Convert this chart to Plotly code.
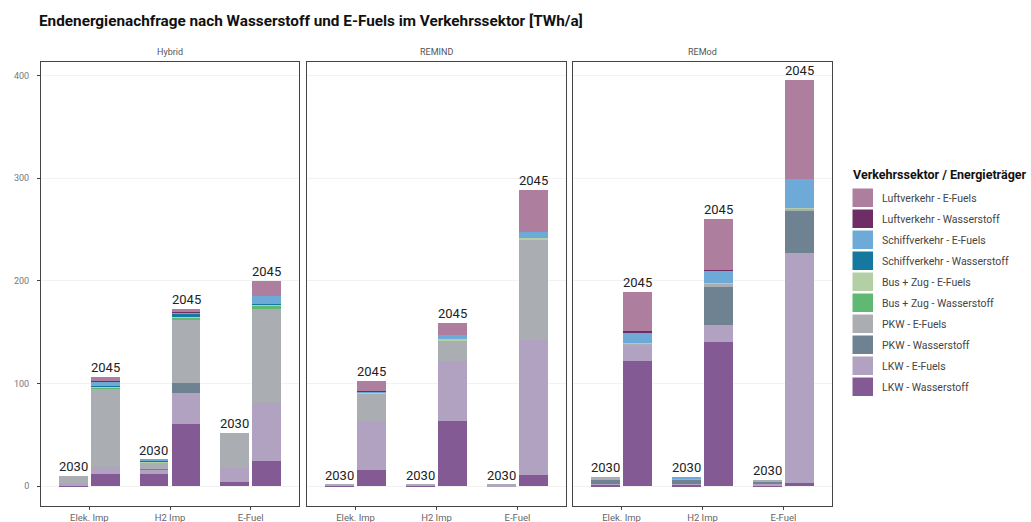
import plotly.graph_objects as go

# Szenarien (Facetten), Kategorien und Jahre
scenarios = ["Hybrid", "REMIND", "REMod"]
categories = ["Elek. Imp", "H2 Imp", "E-Fuel"]
years = ["2030", "2045"]

# Werte je Balken in TWh/a, Reihenfolge: Szenario -> Kategorie -> Jahr
#                Hybrid                              REMIND                              REMod
lkw_h2 =       [0.5, 12, 12, 61, 4, 25,            0.3, 16, 0.5, 64, 0, 11,            1.5, 122, 1.5, 140, 1, 3]
lkw_ef =       [2.5, 7, 4, 30, 14, 56,             0, 48, 0, 58, 0.3, 131,             1, 15, 0.5, 17, 1.5, 224]
pkw_h2 =       [0, 0, 0.5, 10, 0, 0,               0.2, 0, 0.5, 0, 0, 0,               3.5, 0, 5, 37, 1.5, 41]
pkw_ef =       [7, 76, 6.5, 61, 34, 92,            1, 26, 0.5, 20, 1.2, 98,            3, 1.5, 1, 3, 2.5, 2]
bus_h2 =       [0, 0.5, 0.5, 2, 0, 3,              0, 0, 0, 0, 0, 0,                   0, 0, 0, 0, 0, 0]
bus_ef =       [0, 2, 0.5, 1, 0, 1,                0, 1, 0, 1, 0, 2,                   0, 0.5, 0, 0.5, 0, 1]
schiff_h2 =    [0, 0.5, 1.5, 3, 0, 0.5,            0, 0, 0, 0, 0, 0,                   0, 0, 0, 0, 0, 0]
schiff_ef =    [0, 3.5, 0.5, 1.5, 0, 7.5,          0, 1.5, 0, 4, 0, 6,                 0, 11, 1, 13, 0, 28]
luft_h2 =      [0, 0.5, 0, 0.5, 0, 0,              0, 0.5, 0, 0, 0, 0,                 0, 1, 0, 0.5, 0, 0]
luft_ef =      [0, 4.5, 0, 3, 0, 15,               0, 9, 0, 12, 0, 40,                 0, 38, 0, 49, 0, 96]

# Reihen von unten nach oben gestapelt
series = [
    ("LKW - Wasserstoff", lkw_h2, "#835a94"),
    ("LKW - E-Fuels", lkw_ef, "#b2a2c2"),
    ("PKW - Wasserstoff", pkw_h2, "#6e8291"),
    ("PKW - E-Fuels", pkw_ef, "#aaaeb2"),
    ("Bus + Zug - Wasserstoff", bus_h2, "#5fb973"),
    ("Bus + Zug - E-Fuels", bus_ef, "#b2cfa6"),
    ("Schiffverkehr - Wasserstoff", schiff_h2, "#14789f"),
    ("Schiffverkehr - E-Fuels", schiff_ef, "#6eaad7"),
    ("Luftverkehr - Wasserstoff", luft_h2, "#6e2d64"),
    ("Luftverkehr - E-Fuels", luft_ef, "#ad7e9d"),
]

W, H = 1031, 522
FONT = "Roboto"

def px_x(p):
    return p / W

def px_y(p):
    return 1 - p / H

panel_px = [(41, 299), (307, 566), (573, 832)]
plot_top, plot_bottom = 62, 506
y_range = [-19.2, 413.0]
dodge = 0.2
bar_w = 0.355

fig = go.Figure()

positions = []
for ci in range(len(categories)):
    for yi in range(len(years)):
        positions.append(ci + (-dodge if yi == 0 else dodge))

for p, scen in enumerate(scenarios):
    ax = "" if p == 0 else str(p + 1)
    for name, vals, color in series:
        fig.add_trace(go.Bar(
            x=positions,
            y=vals[p * 6:(p + 1) * 6],
            width=bar_w,
            marker=dict(color=color, line=dict(width=0)),
            name=name,
            showlegend=False,
            xaxis="x" + ax,
            yaxis="y" + ax,
        ))
    # Jahresbeschriftung über jedem Balken
    for k, xpos in enumerate(positions):
        total = sum(vals[p * 6 + k] for _, vals, _ in series)
        fig.add_annotation(
            x=xpos, y=total, xref="x" + ax, yref="y" + ax,
            text=years[k % 2], showarrow=False,
            xanchor="center", yanchor="bottom",
            font=dict(family=FONT, size=13, color="#222"),
        )
    # Facettentitel
    x0, x1 = panel_px[p]
    fig.add_annotation(
        x=px_x((x0 + x1) / 2), y=px_y(52), xref="paper", yref="paper",
        xanchor="center", yanchor="middle",
        text=scen, showarrow=False, font=dict(family=FONT, size=9, color="#555"),
    )

layout_axes = {}
for p in range(3):
    ax = "" if p == 0 else str(p + 1)
    x0, x1 = panel_px[p]
    layout_axes["xaxis" + ax] = dict(
        domain=[px_x(x0), px_x(x1)], range=[-0.6, 2.6],
        tickvals=[0, 1, 2], ticktext=categories,
        showgrid=False, zeroline=False,
        showline=True, mirror=True, linecolor="#444", linewidth=1,
        ticks="outside", ticklen=3, tickcolor="#444",
        tickfont=dict(family=FONT, size=9.5, color="#666"),
        anchor="y" + ax,
    )
    layout_axes["yaxis" + ax] = dict(
        domain=[px_y(plot_bottom), px_y(plot_top)], range=y_range,
        tickvals=[0, 100, 200, 300, 400],
        showticklabels=(p == 0),
        ticks="outside" if p == 0 else "", ticklen=3, tickcolor="#444",
        ticklabelstandoff=6,
        tickfont=dict(family=FONT, size=9, color="#777"),
        showgrid=True, gridcolor="#f2f2f2", gridwidth=1, zeroline=False,
        showline=True, mirror=True, linecolor="#444", linewidth=1,
        anchor="x" + ax,
    )

fig.update_layout(
    width=W, height=H,
    margin=dict(l=0, r=0, t=0, b=0),
    paper_bgcolor="white", plot_bgcolor="white",
    barmode="stack", bargap=0,
    showlegend=False,
    font=dict(family=FONT),
    **layout_axes,
)

# Titel
fig.add_annotation(
    x=px_x(37), y=px_y(21), xref="paper", yref="paper",
    xanchor="left", yanchor="middle",
    text="<b>Endenergienachfrage nach Wasserstoff und E-Fuels im Verkehrssektor [TWh/a]</b>",
    showarrow=False, font=dict(family=FONT, size=15.3, color="#111"),
)

# Legende (oben die zuletzt gestapelte Reihe)
fig.add_annotation(
    x=px_x(851), y=px_y(175), xref="paper", yref="paper",
    xanchor="left", yanchor="middle",
    text="<b>Verkehrssektor / Energieträger</b>", showarrow=False,
    font=dict(family=FONT, size=12.5, color="#111"),
)
for i, (name, _, color) in enumerate(reversed(series)):
    top = 188.5 + 21 * i
    fig.add_shape(
        type="rect", xref="paper", yref="paper",
        x0=px_x(852.5), x1=px_x(873), y0=px_y(top + 18.5), y1=px_y(top),
        fillcolor=color, line=dict(width=0),
    )
    fig.add_annotation(
        x=px_x(880), y=px_y(top + 9.5), xref="paper", yref="paper",
        xanchor="left", yanchor="middle",
        text=name, showarrow=False, font=dict(family=FONT, size=10.5, color="#444"),
    )

fig.write_html("out.html")
